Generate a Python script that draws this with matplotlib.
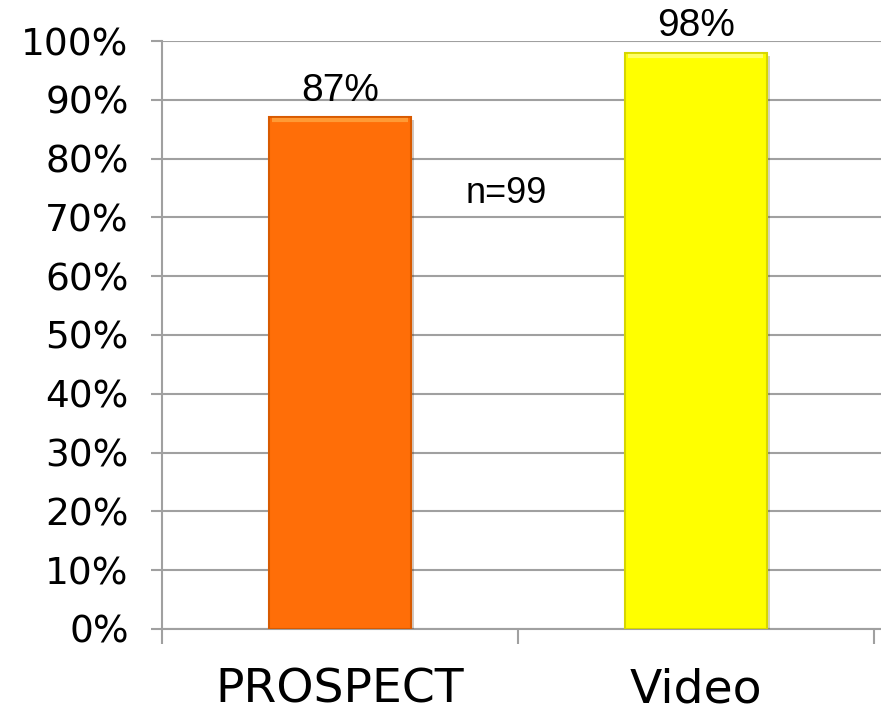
import matplotlib
matplotlib.use('Agg')
import matplotlib.pyplot as plt
import matplotlib.patheffects as pe
from matplotlib.ticker import FixedLocator, PercentFormatter

# Share of patients per method
categories = ['PROSPECT', 'Video']
values = [0.87, 0.98]
labels = ['87%', '98%']
bar_colors = ['#ff6e08', '#ffff00']
edge_colors = ['#d85a00', '#d6d600']
top_colors = ['#ff9a35', '#ffff66']
sample_note = 'n=99'

grid_color = '#a0a0a0'

fig = plt.figure(figsize=(8.81, 7.12), dpi=100)
ax = fig.add_axes([0.1839, 0.1166, 0.816, 0.8258])

x = list(range(len(categories)))
bars = ax.bar(x, values, width=0.4, color=bar_colors, edgecolor=edge_colors,
              linewidth=1.5, zorder=3)
for b in bars:
    b.set_path_effects([pe.SimplePatchShadow(offset=(2, -2), alpha=0.25),
                        pe.Normal()])

# light bevel along the top of each bar
for b, c in zip(bars, top_colors):
    ax.hlines(b.get_height(), b.get_x() + 0.01, b.get_x() + b.get_width() - 0.01,
              colors=c, linewidth=3, zorder=4,
              transform=ax.transData + matplotlib.transforms.ScaledTranslation(0, -3 / 100, fig.dpi_scale_trans))

# value labels above the bars
for xi, v, lab in zip(x, values, labels):
    ax.annotate(lab, (xi, v), xytext=(0, 12), textcoords='offset points',
                ha='center', va='baseline', fontsize=28,
                family='Liberation Sans')

ax.text(0.466, 0.741, sample_note, ha='center', va='center', fontsize=26,
        family='Liberation Sans')

ax.set_xlim(-0.5, len(categories) - 0.5 + 0.02)
ax.set_ylim(0, 1)
ax.set_yticks([i / 10 for i in range(11)])
ax.yaxis.set_major_formatter(PercentFormatter(1.0, decimals=0))
ax.yaxis.grid(True, color=grid_color, linewidth=1.5, zorder=0)

ax.set_xticks(x)
ax.set_xticklabels(categories)
ax.xaxis.set_minor_locator(FixedLocator([-0.5, 0.5, 1.5]))

ax.tick_params(axis='y', length=8, width=1.5, color=grid_color,
               labelsize=27, pad=16)
ax.tick_params(axis='x', which='major', length=0, labelsize=34, pad=28)
ax.tick_params(axis='x', which='minor', length=11, width=1.5,
               color=grid_color)

for side in ['top', 'right']:
    ax.spines[side].set_visible(False)
for side in ['left', 'bottom']:
    ax.spines[side].set_color(grid_color)
    ax.spines[side].set_linewidth(1.5)

fig.savefig('out.png', dpi=100)
